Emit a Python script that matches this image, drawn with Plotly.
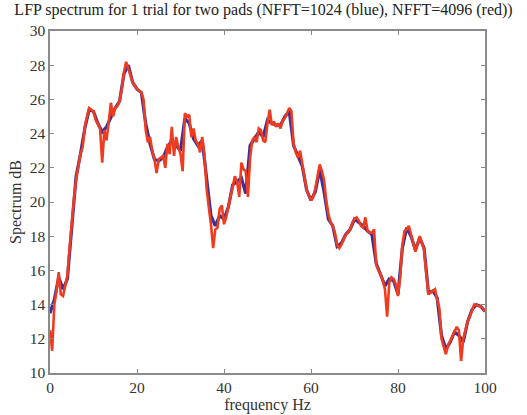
import plotly.graph_objects as go

# Blue series (NFFT=1024), 1 Hz bins
blue_freq = list(range(0, 101))
blue_db = [
    13.5, 14.3, 15.6, 14.9, 15.5, 18.8, 21.5, 22.8, 24.3, 25.4,
    25.3, 24.6, 24.1, 24.4, 25.0, 25.5, 25.9, 27.5, 28.0, 27.0,
    26.6, 26.4, 24.6, 23.4, 22.5, 22.4, 22.6, 23.2, 23.6, 23.3,
    23.0, 24.9, 24.6, 23.7, 23.3, 23.6, 21.2, 19.2, 18.6, 19.2,
    19.0, 19.7, 21.0, 21.2, 21.4, 20.5, 23.3, 23.7, 24.1, 23.8,
    24.8, 24.6, 24.5, 24.5, 25.0, 25.3, 23.3, 22.7, 22.1, 20.7,
    20.1, 20.6, 21.9, 20.6, 19.0, 18.6, 17.4, 17.6, 18.1, 18.4,
    19.0, 18.8, 18.6, 18.3, 18.1, 16.4, 15.7, 15.1, 15.5, 15.4,
    14.6, 17.3, 18.5, 18.0, 17.2, 17.9, 17.3, 14.7, 14.8, 14.4,
    12.2, 11.4, 11.8, 12.4, 12.2, 11.8, 13.0, 13.7, 14.0, 13.9,
    13.6,
]

# Red series (NFFT=4096), 0.5 Hz bins
red_freq = [i / 2 for i in range(0, 201)]
red_db = [
    12.5, 11.3, 14.0, 14.8, 15.9, 14.6, 14.5, 15.2, 15.7, 17.3,
    19.0, 20.2, 21.3, 22.2, 22.8, 23.2, 24.4, 25.0, 25.5, 25.4,
    25.3, 24.8, 24.5, 24.3, 22.3, 24.2, 23.6, 24.6, 25.8, 25.0,
    25.5, 25.6, 25.9, 26.6, 27.6, 28.2, 27.8, 27.3, 27.0, 26.8,
    26.6, 26.5, 26.4, 26.0, 24.2, 23.5, 23.8, 23.0, 22.5, 21.7,
    22.5, 22.6, 22.7, 22.0, 23.4, 22.8, 24.4, 22.7, 23.8, 23.2,
    22.8, 21.8, 25.2, 25.0, 25.1, 23.8, 24.3, 23.6, 23.4, 22.9,
    23.8, 22.8, 20.8, 19.7, 18.7, 17.3, 18.4, 18.5, 19.6, 19.8,
    18.7, 19.1, 19.7, 20.4, 20.9, 21.5, 21.2, 20.3, 22.3, 21.9,
    21.8, 20.3, 22.6, 23.6, 23.8, 23.5, 24.3, 24.2, 23.6, 23.5,
    24.6, 25.4, 24.5, 24.7, 24.4, 24.6, 24.3, 24.8, 24.9, 25.2,
    25.5, 25.3, 23.4, 22.9, 22.6, 23.0, 22.2, 21.4, 20.7, 20.4,
    20.1, 20.3, 20.8, 21.5, 22.2, 21.8, 21.3, 20.1, 19.3, 18.8,
    18.6, 18.2, 17.5, 17.3, 17.5, 17.8, 18.1, 18.2, 18.4, 18.8,
    19.0, 19.1, 18.9, 18.6, 18.5, 19.1, 18.3, 18.2, 18.2, 18.4,
    16.3, 16.0, 15.8, 15.4, 14.9, 13.3, 15.3, 15.6, 15.5, 15.2,
    14.5, 15.6, 17.5, 18.3, 18.4, 18.6, 18.0, 17.6, 17.1, 17.5,
    18.0, 17.6, 17.2, 15.8, 14.6, 14.7, 14.8, 14.9, 14.3, 13.8,
    12.0, 11.6, 11.1, 11.6, 11.9, 12.2, 12.5, 12.7, 12.5, 10.7,
    12.0, 12.6, 13.0, 13.3, 13.7, 14.0, 14.0, 13.9, 13.9, 13.8,
    13.6,
]

x_ticks = [0, 20, 40, 60, 80, 100]
y_ticks = [10, 12, 14, 16, 18, 20, 22, 24, 26, 28, 30]

title_text = "LFP spectrum for 1 trial for two pads (NFFT=1024 (blue), NFFT=4096 (red))"
x_title = "frequency Hz"
y_title = "Spectrum dB"

fig = go.Figure()
fig.add_trace(go.Scatter(x=blue_freq, y=blue_db, mode="lines",
                         line=dict(color="#3a2f9a", width=3.2), showlegend=False))
fig.add_trace(go.Scatter(x=red_freq, y=red_db, mode="lines",
                         line=dict(color="#f03c1e", width=2.6), showlegend=False))

font_family = "Liberation Serif, Times New Roman, serif"
axis_common = dict(
    showgrid=False, zeroline=False, showline=True, linecolor="#8a8a8a", linewidth=1.5,
    mirror="ticks", ticks="inside", ticklen=4, tickcolor="#8a8a8a", automargin=False,
    tickfont=dict(family=font_family, size=15.5, color="#333333"),
)

fig.update_layout(
    width=527, height=415,
    margin=dict(l=50, r=42, t=31, b=42),
    paper_bgcolor="white", plot_bgcolor="white",
    title=dict(text=title_text, x=0.5, xanchor="center", y=0.99, yanchor="top",
               font=dict(family=font_family, size=16, color="#222222")),
    xaxis=dict(range=[0, 100], tickvals=x_ticks,
               title=dict(text=x_title, standoff=1,
                          font=dict(family=font_family, size=16, color="#333333")),
               **axis_common),
    yaxis=dict(range=[10, 30], tickvals=y_ticks,
               title=dict(text=y_title, standoff=4,
                          font=dict(family=font_family, size=16, color="#333333")),
               **axis_common),
)

fig.write_html("out.html")
